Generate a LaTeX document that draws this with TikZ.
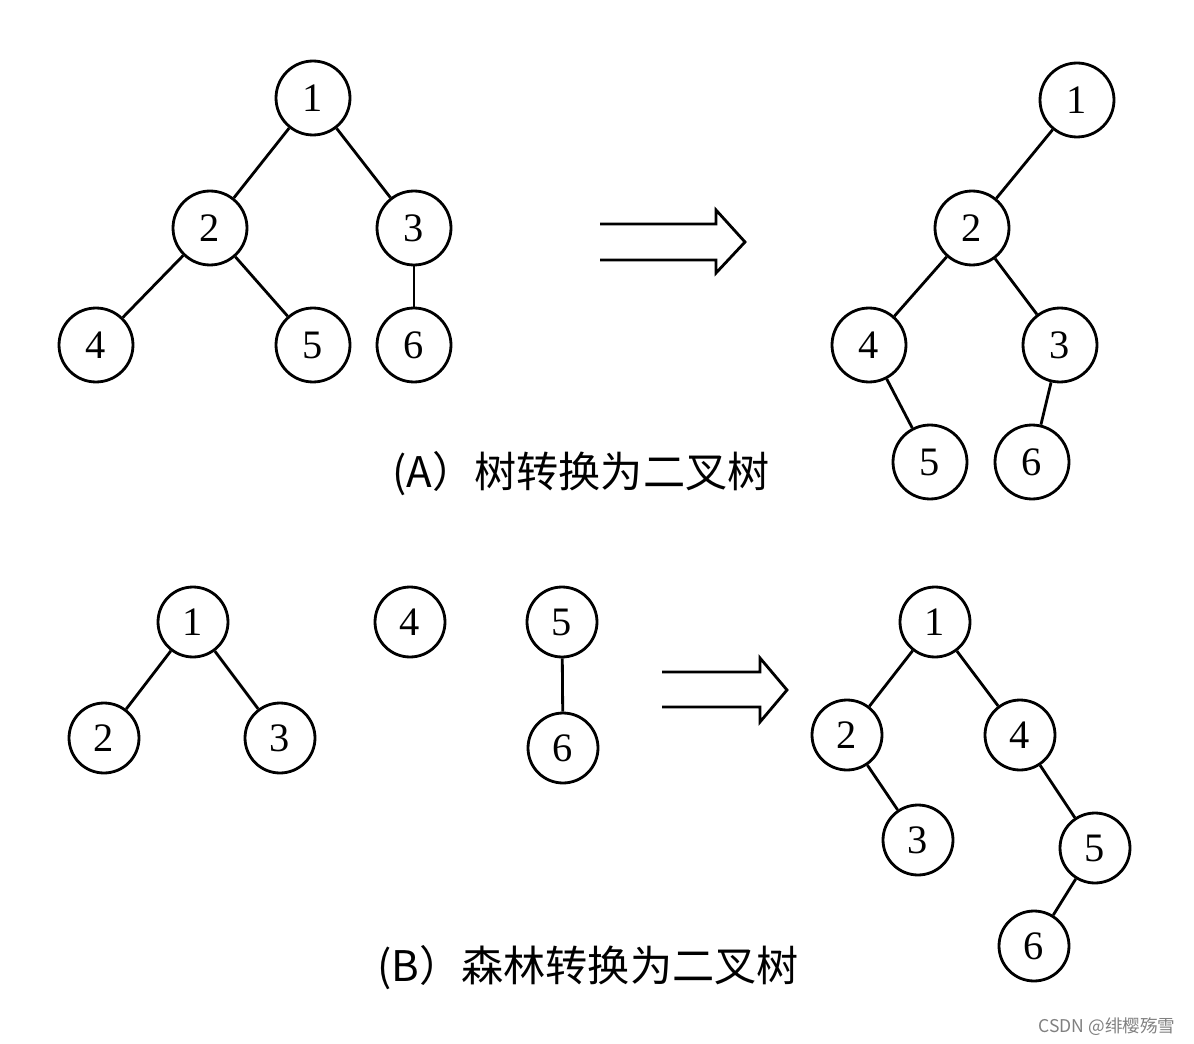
\documentclass[tikz,border=0pt]{standalone}
\usepackage{fontspec}
\setmainfont{Liberation Serif}
\newfontfamily\cjk{Noto Sans CJK SC}
\usepackage{tikz}

\begin{document}
\begin{tikzpicture}[x=0.02cm, y=-0.02cm, line width=1.6pt,
  vtx/.style={circle, draw, line width=1.6pt, minimum size=1.48cm, inner sep=0pt, font=\fontsize{23}{23}\selectfont},
  vtxs/.style={vtx, minimum size=1.4cm},
  captext/.style={font=\cjk\fontsize{24}{24}\selectfont}]
  \useasboundingbox (0,0) rectangle (1194,1044);
  % (A) tree
  \node[vtx] (a1) at (313,98) {1};
  \node[vtx] (a2) at (210,228) {2};
  \node[vtx] (a3) at (414,228) {3};
  \node[vtx] (a4) at (96,345) {4};
  \node[vtx] (a5) at (313,345) {5};
  \node[vtx] (a6) at (414,345) {6};
  \draw (a1) -- (a2);
  \draw (a1) -- (a3);
  \draw (a2) -- (a4);
  \draw (a2) -- (a5);
  \draw (a3) -- (a6);
  % (A) binary tree
  \node[vtx] (b1) at (1077,100) {1};
  \node[vtx] (b2) at (972,228) {2};
  \node[vtx] (b4) at (869,345) {4};
  \node[vtx] (b3) at (1060,345) {3};
  \node[vtx] (b5) at (930,462) {5};
  \node[vtx] (b6) at (1032,462) {6};
  \draw (b1) -- (b2);
  \draw (b2) -- (b4);
  \draw (b2) -- (b3);
  \draw (b4) -- (b5);
  \draw (b3) -- (b6);
  % arrow A
  \draw[line join=miter] (600,224) -- (716,224) -- (716,210) -- (745,242) -- (716,273) -- (716,260) -- (600,260);
  \node[captext] (capA) at (581,474) {(A）树转换为二叉树};
  % (B) forest
  \node[vtxs] (c1) at (193,622) {1};
  \node[vtxs] (c2) at (104,738) {2};
  \node[vtxs] (c3) at (280,738) {3};
  \node[vtxs] (c4) at (410,622) {4};
  \node[vtxs] (c5) at (562,622) {5};
  \node[vtxs] (c6) at (563,748) {6};
  \draw (c1) -- (c2);
  \draw (c1) -- (c3);
  \draw (c5) -- (c6);
  % (B) binary tree
  \node[vtxs] (d1) at (935,622) {1};
  \node[vtxs] (d2) at (847,735) {2};
  \node[vtxs] (d4) at (1020,735) {4};
  \node[vtxs] (d3) at (918,840) {3};
  \node[vtxs] (d5) at (1095,848) {5};
  \node[vtxs] (d6) at (1034,946) {6};
  \draw (d1) -- (d2);
  \draw (d1) -- (d4);
  \draw (d2) -- (d3);
  \draw (d4) -- (d5);
  \draw (d5) -- (d6);
  % arrow B
  \draw[line join=miter] (662,672) -- (760,672) -- (760,658) -- (787,690) -- (760,722) -- (760,707) -- (662,707);
  \node[captext] (capB) at (588,968) {(B）森林转换为二叉树};
  \node[font=\cjk\fontsize{10}{10}\selectfont, text=gray] (mark) at (1107,1027) {CSDN @绯樱殇雪};
\end{tikzpicture}
\end{document}
